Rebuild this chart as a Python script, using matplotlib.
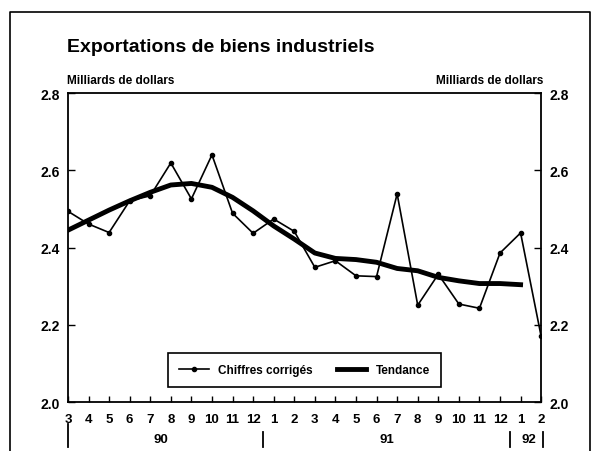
import numpy as np
import matplotlib
matplotlib.use("Agg")
import matplotlib.pyplot as plt
from matplotlib.lines import Line2D

# monthly data, March 1990 -> February 1992
months = ["3", "4", "5", "6", "7", "8", "9", "10", "11", "12",
          "1", "2", "3", "4", "5", "6", "7", "8", "9", "10", "11", "12",
          "1", "2"]
years = ["90", "91", "92"]

chiffres = [2.494, 2.461, 2.439, 2.521, 2.534, 2.619, 2.526, 2.640, 2.489, 2.437,
            2.474, 2.442, 2.349, 2.366, 2.327, 2.325, 2.539, 2.251, 2.331, 2.254,
            2.243, 2.386, 2.438, 2.170]

tendance = [2.445, 2.471, 2.497, 2.521, 2.543, 2.562, 2.566, 2.556, 2.530, 2.495,
            2.456, 2.422, 2.386, 2.372, 2.369, 2.362, 2.346, 2.340, 2.323, 2.314,
            2.307, 2.307, 2.304]

plt.rcParams["font.family"] = ["Liberation Sans", "DejaVu Sans"]
plt.rcParams["font.weight"] = "bold"

fig = plt.figure(figsize=(5.96, 4.52), dpi=100)
ax = fig.add_axes([0.114, 0.108, 0.794, 0.684])

x = np.arange(len(chiffres))
ax.plot(x, chiffres, color="black", lw=1.2, marker="o", ms=3, label="Chiffres corrigés")
ax.plot(np.arange(len(tendance)), tendance, color="black", lw=3.5, label="Tendance")

ax.set_xlim(0, len(months) - 1)
ax.set_ylim(2.0, 2.8)
ax.set_xticks(x)
ax.set_xticklabels(months, fontsize=9.5, fontweight="bold")
ax.tick_params(axis="x", direction="in", length=4, pad=8, width=1)
ax.set_yticks([2.0, 2.2, 2.4, 2.6, 2.8])
ax.set_yticklabels(["2.0", "2.2", "2.4", "2.6", "2.8"], fontsize=10, fontweight="bold")
ax.tick_params(axis="y", direction="in", length=5, pad=6, width=1,
               left=True, right=True, labelleft=True, labelright=True)
for s in ax.spines.values():
    s.set_linewidth(1.3)

leg = ax.legend(loc="lower center", bbox_to_anchor=(0.5, 0.03), ncol=2,
                fancybox=False, edgecolor="black", framealpha=1,
                prop={"size": 8.5, "weight": "bold"}, handlelength=2.5,
                columnspacing=2.0, borderpad=0.95)
leg.get_frame().set_linewidth(1.2)

# year labels and separators under the month labels
tr = ax.get_xaxis_transform()
for xs, y0 in [(0, -0.07), (9.5, -0.095), (21.5, -0.095), (23.1, -0.095)]:
    ax.add_line(Line2D([xs, xs], [y0, -0.145], transform=tr, color="black",
                       lw=1.3, clip_on=False))
ax.text(4.5, -0.12, years[0], transform=tr, ha="center", va="center", fontsize=9.5)
ax.text(15.5, -0.12, years[1], transform=tr, ha="center", va="center", fontsize=9.5)
ax.text(22.4, -0.12, years[2], transform=tr, ha="center", va="center", fontsize=9.5)

fig.text(0.112, 0.885, "Exportations de biens industriels", fontsize=14, fontweight="bold")
fig.text(0.112, 0.815, "Milliards de dollars", fontsize=8.5, fontweight="bold")
fig.text(0.912, 0.815, "Milliards de dollars", fontsize=8.5, fontweight="bold", ha="right")

# outer frame (open at the bottom)
fig.add_artist(Line2D([0.017, 0.017, 0.99, 0.99], [0.0, 0.971, 0.971, 0.0],
                      transform=fig.transFigure, color="black", lw=1.2))

fig.savefig("out.png", dpi=100)
